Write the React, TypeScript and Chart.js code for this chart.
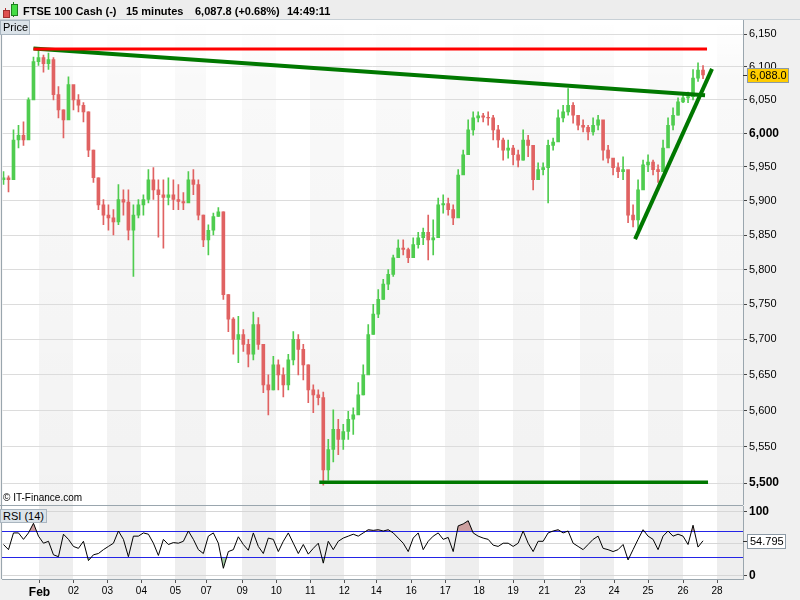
import React, { useEffect, useRef } from 'react';
import { Chart, registerables } from 'chart.js';

Chart.register(...registerables);

const FONT = '"Liberation Sans", Arial, Helvetica, sans-serif';

// ---- x axis (15-minute bar index, one bar per pixel in the original) ----
const dayLabels = ['Feb', '02', '03', '04', '05', '07', '09', '10', '11', '12', '14', '16', '17', '18', '19', '21', '23', '24', '25', '26', '28'];
const dayStartBars = [37, 71, 105, 139, 173, 204, 240, 274, 308, 342, 374, 409, 443, 477, 511, 542, 578, 612, 646, 681, 715];
const firstBar = 1;
const barsPerCandle = 5;
const lastBarRange = 741;

// ---- price axis ----
const priceTicks = [6150, 6100, 6050, 6000, 5950, 5900, 5850, 5800, 5750, 5700, 5650, 5600, 5550, 5500];
const boldPriceTicks = [6000, 5500];
const priceMin = 5470;
const priceMax = 6171.5;

// ---- candles (75-minute aggregates) ----
const firstOpen = 5931;
const highs = [
  5943, 5937, 6005, 6012, 6017, 6053, 6115, 6126, 6118, 6121,
  6114, 6070, 6035, 6085, 6068, 6058, 6046, 6032, 5975, 5934,
  5902, 5894, 5887, 5924, 5916, 5916, 5894, 5902, 5909, 5946,
  5949, 5931, 5931, 5934, 5931, 5924, 5912, 5943, 5946, 5931,
  5879, 5865, 5882, 5890, 5884, 5764, 5731, 5733, 5714, 5700,
  5739, 5731, 5693, 5650, 5676, 5671, 5660, 5679, 5711, 5707,
  5693, 5664, 5636, 5629, 5626, 5560, 5601, 5588, 5581, 5599,
  5604, 5639, 5664, 5721, 5750, 5771, 5786, 5800, 5821, 5843,
  5843, 5831, 5846, 5854, 5860, 5879, 5872, 5904, 5909, 5904,
  5894, 5946, 5975, 6020, 6032, 6032, 6030, 6032, 6027, 6012,
  5993, 5990, 5982, 5975, 6005, 5997, 5975, 5956, 5956, 5990,
  5993, 6035, 6042, 6067, 6046, 6023, 6020, 6012, 6023, 6027,
  6012, 5982, 5960, 5956, 5965, 5938, 5894, 5931, 5960, 5968,
  5960, 5953, 5990, 6023, 6038, 6053, 6061, 6062, 6096, 6106,
  6102,
];
const lows = [
  5924, 5913, 5946, 5978, 5982, 5997, 6058, 6102, 6092, 6096,
  6050, 6023, 5993, 6027, 6035, 6032, 6017, 5965, 5927, 5887,
  5865, 5857, 5850, 5865, 5879, 5843, 5790, 5875, 5879, 5897,
  5902, 5847, 5831, 5894, 5887, 5887, 5887, 5902, 5909, 5872,
  5833, 5821, 5850, 5877, 5757, 5711, 5679, 5667, 5683, 5661,
  5671, 5686, 5625, 5594, 5629, 5629, 5619, 5629, 5664, 5650,
  5643, 5611, 5597, 5608, 5497, 5504, 5529, 5539, 5546, 5560,
  5567, 5601, 5622, 5657, 5707, 5731, 5757, 5771, 5790, 5819,
  5821, 5810, 5821, 5831, 5836, 5814, 5821, 5879, 5882, 5879,
  5865, 5879, 5943, 5975, 5997, 6017, 6017, 6012, 5990, 5979,
  5960, 5963, 5953, 5950, 5960, 5965, 5916, 5934, 5938, 5897,
  5975, 6005, 6017, 6027, 6015, 6005, 6002, 5990, 5997, 6005,
  5960, 5956, 5938, 5934, 5931, 5868, 5862, 5850, 5924, 5943,
  5938, 5927, 5946, 5982, 6005, 6027, 6046, 6046, 6050, 6078,
  6082,
];
const closes = [
  5934, 5931, 5990, 5997, 5990, 6050, 6108, 6114, 6105, 6111,
  6058, 6035, 6020, 6073, 6050, 6042, 6032, 5975, 5934, 5894,
  5879, 5875, 5869, 5902, 5898, 5857, 5879, 5894, 5902, 5931,
  5916, 5909, 5905, 5909, 5902, 5899, 5897, 5931, 5924, 5879,
  5843, 5857, 5877, 5884, 5764, 5729, 5700, 5707, 5693, 5679,
  5721, 5693, 5636, 5629, 5664, 5650, 5636, 5671, 5700, 5686,
  5664, 5629, 5622, 5618, 5518, 5546, 5574, 5560, 5571, 5588,
  5594, 5622, 5650, 5707, 5736, 5757, 5779, 5793, 5817, 5831,
  5829, 5817, 5836, 5846, 5854, 5843, 5846, 5894, 5896, 5887,
  5875, 5938, 5968, 6005, 6023, 6026, 6024, 6023, 6005, 5990,
  5975, 5978, 5968, 5960, 5990, 5982, 5931, 5946, 5949, 5982,
  5987, 6023, 6032, 6042, 6027, 6012, 6009, 6002, 6012, 6020,
  5975, 5963, 5949, 5943, 5946, 5879, 5872, 5916, 5953, 5957,
  5946, 5943, 5978, 6012, 6027, 6047, 6053, 6055, 6083, 6095,
  6087.8,
];
const lastPrice = 6087.8;

// ---- RSI (14) ----
const rsiValues = [
  49, 41, 67, 67, 57, 67, 82, 62, 51, 54,
  33, 30, 65, 57, 46, 43, 54, 24, 33, 35,
  41, 46, 51, 70, 57, 30, 62, 62, 67, 65,
  51, 32, 57, 49, 52, 51, 54, 70, 57, 41,
  35, 62, 67, 51, 12, 38, 41, 61, 49, 40,
  67, 46, 35, 59, 57, 38, 54, 67, 51, 35,
  49, 34, 43, 51, 20, 54, 41, 54, 59, 62,
  65, 62, 67, 72, 71, 72, 70, 72, 67, 59,
  51, 38, 59, 67, 41, 54, 62, 67, 57, 60,
  38, 78, 81, 86, 67, 62, 59, 57, 48, 46,
  51, 51, 46, 51, 70, 51, 38, 54, 54, 67,
  70, 72, 67, 70, 51, 46, 41, 49, 57, 62,
  43, 41, 38, 41, 49, 25, 41, 57, 72, 62,
  57, 41, 62, 70, 62, 65, 62, 49, 79, 45,
  54.795,
];
const lastRsi = 54.795;
const rsiTicks = [0, 50, 100];
const rsiLabelTicks = [0, 100];
const rsiBandLevels = [30, 70];
const rsiMin = -4.67;
const rsiMax = 108.9;

// ---- drawn trend lines [bar, price] ----
const resistanceLine = [[31, 6127], [705, 6127]];
const downTrendLine = [[31, 6128], [703, 6057]];
const upTrendLine = [[633, 5844], [710, 6097]];
const supportLine = [[317, 5501], [706, 5501]];

const UP = '#4fcc4f';
const DOWN = '#e06262';
const FRAME = '#9aa6ae';
const LEVEL_BLUE = 'rgb(36, 36, 230)';
const OVERBOUGHT_FILL = 'rgb(205, 160, 160)';
const OVERSOLD_FILL = 'rgb(165, 205, 165)';

const candles = closes.map((c, i) => {
  const o = i === 0 ? firstOpen : closes[i - 1];
  return { x: firstBar + i * barsPerCandle, o, h: highs[i], l: lows[i], c };
});
const candleColors = candles.map((k) => (k.c >= k.o ? UP : DOWN));

function makeBandsPlugin(gradient: boolean, bandColor: string, topLine: boolean) {
  return {
    id: 'bands',
    beforeDraw(chart: any) {
      const { ctx, chartArea: a, scales } = chart;
      const x = scales.x;
      ctx.save();
      ctx.fillStyle = '#f0f0f0';
      ctx.fillRect(0, 0, chart.width, chart.height);
      ctx.fillStyle = '#ffffff';
      ctx.fillRect(a.left, a.top, a.right - a.left, a.bottom - a.top);
      let fill: any = bandColor;
      if (gradient) {
        const g = ctx.createLinearGradient(0, a.top, 0, a.bottom);
        g.addColorStop(0, 'rgba(0,0,0,0.0)');
        g.addColorStop(0.12, 'rgba(0,0,0,0.025)');
        g.addColorStop(1, 'rgba(0,0,0,0.05)');
        fill = g;
      }
      ctx.fillStyle = fill;
      for (let k = 0; k < dayStartBars.length; k += 2) {
        const x0 = Math.round(x.getPixelForValue(dayStartBars[k]));
        const x1 = k + 1 < dayStartBars.length ? Math.round(x.getPixelForValue(dayStartBars[k + 1])) : Math.round(a.right);
        const r = Math.min(x1, Math.round(a.right));
        if (r > x0) ctx.fillRect(x0, a.top, r - x0, a.bottom - a.top);
      }
      ctx.fillStyle = FRAME;
      ctx.fillRect(1, a.top, 1, a.bottom - a.top);
      if (topLine) ctx.fillRect(0, 0, Math.round(a.right), 1);
      ctx.restore();
    },
  };
}

// RSI: shaded excursions beyond 70 / 30, then the blue 30 / 70 lines
const rsiLevelsPlugin = {
  id: 'rsiLevels',
  beforeDatasetsDraw(chart: any) {
    const { ctx, chartArea: a, scales } = chart;
    const xs = scales.x;
    const ys = scales.y;
    const px = rsiValues.map((_v, i) => xs.getPixelForValue(firstBar + i * barsPerCandle));
    const py = rsiValues.map((v) => ys.getPixelForValue(v));
    const yHi = Math.round(ys.getPixelForValue(rsiBandLevels[1]));
    const yLo = Math.round(ys.getPixelForValue(rsiBandLevels[0]));
    const left = Math.floor(a.left);
    const width = Math.ceil(a.right) - left;

    const shade = (clipTop: number, clipH: number, base: number, color: string) => {
      ctx.save();
      ctx.beginPath();
      ctx.rect(left, clipTop, width, clipH);
      ctx.clip();
      ctx.beginPath();
      ctx.moveTo(px[0], base);
      for (let i = 0; i < px.length; i++) ctx.lineTo(px[i], py[i]);
      ctx.lineTo(px[px.length - 1], base);
      ctx.closePath();
      ctx.fillStyle = color;
      ctx.fill();
      ctx.restore();
    };
    shade(Math.floor(a.top), yHi - Math.floor(a.top), yHi, OVERBOUGHT_FILL);
    shade(yLo + 1, Math.ceil(a.bottom) - yLo - 1, yLo, OVERSOLD_FILL);

    ctx.save();
    ctx.fillStyle = LEVEL_BLUE;
    ctx.fillRect(left, yHi, width, 1);
    ctx.fillRect(left, yLo, width, 1);
    ctx.restore();
  },
};

function makeValueBoxPlugin(value: number, text: string, fillColor: string) {
  return {
    id: 'valueBox',
    afterDraw(chart: any) {
      const { ctx, chartArea: a, scales } = chart;
      const py = Math.round(scales.y.getPixelForValue(value));
      const right = Math.round(a.right);
      ctx.save();
      ctx.fillStyle = '#333333';
      ctx.fillRect(right, py, 4, 1);
      ctx.font = `11px ${FONT}`;
      const w = Math.ceil(ctx.measureText(text).width) + 5;
      const h = 15;
      const bx = right + 4;
      const by = py - 7;
      ctx.fillStyle = fillColor;
      ctx.fillRect(bx, by, w, h);
      ctx.strokeStyle = '#8c9aa6';
      ctx.lineWidth = 1;
      ctx.strokeRect(bx + 0.5, by + 0.5, w - 1, h - 1);
      ctx.fillStyle = '#000000';
      ctx.textBaseline = 'middle';
      ctx.textAlign = 'left';
      ctx.fillText(text, bx + 3, py + 1);
      ctx.restore();
    },
  };
}

function noPad(s: any) {
  s.paddingTop = 0;
  s.paddingBottom = 0;
  s.paddingLeft = 0;
  s.paddingRight = 0;
}

function lineDs(points: number[][], color: string, width: number) {
  return {
    type: 'line',
    data: points.map((p) => ({ x: p[0], y: p[1] })),
    borderColor: color,
    borderWidth: width,
    pointRadius: 0,
    fill: false,
    tension: 0,
    order: 0,
  };
}

function priceConfig(): any {
  return {
    type: 'bar',
    data: {
      datasets: [
        {
          type: 'bar',
          data: candles.map((k) => ({ x: k.x, y: [k.l, k.h] })),
          backgroundColor: candleColors,
          barThickness: 1,
          grouped: false,
          order: 3,
        },
        {
          type: 'bar',
          data: candles.map((k) => ({ x: k.x, y: [k.o, k.c] })),
          backgroundColor: candleColors,
          barThickness: 3,
          grouped: false,
          order: 2,
        },
        lineDs(resistanceLine, '#ff0000', 3),
        lineDs(downTrendLine, '#007800', 4),
        lineDs(upTrendLine, '#007800', 4),
        lineDs(supportLine, '#007800', 3.5),
      ],
    },
    options: {
      responsive: false,
      animation: false,
      devicePixelRatio: 1,
      events: [],
      layout: { padding: { left: 2.5, top: 0, right: 0, bottom: 0 } },
      plugins: {
        legend: { display: false },
        tooltip: { enabled: false },
      },
      scales: {
        x: {
          type: 'linear',
          display: false,
          offset: false,
          min: 0,
          max: lastBarRange,
          grid: { display: false },
        },
        y: {
          type: 'logarithmic',
          position: 'right',
          min: priceMin,
          max: priceMax,
          afterBuildTicks: (s: any) => {
            s.ticks = priceTicks.map((v) => ({ value: v }));
          },
          afterFit: (s: any) => {
            s.width = 57;
            noPad(s);
          },
          grid: { color: '#dcdcdc', tickLength: 4, tickColor: '#444', lineWidth: 1 },
          border: { display: true, color: FRAME },
          ticks: {
            padding: 2,
            color: '#000',
            autoSkip: false,
            callback: (v: any) => Number(v).toLocaleString('en-US'),
            font: (c: any) => {
              const b = c.tick && boldPriceTicks.includes(c.tick.value);
              return { family: FONT, size: b ? 12 : 11, weight: b ? 'bold' : 'normal' };
            },
          },
        },
      },
    },
    plugins: [makeBandsPlugin(true, '', false), makeValueBoxPlugin(lastPrice, '6,088.0', '#ffcc00')],
  };
}

function rsiConfig(): any {
  const pts = rsiValues.map((v, i) => ({ x: firstBar + i * barsPerCandle, y: v }));
  return {
    type: 'line',
    data: {
      datasets: [
        {
          data: pts,
          borderColor: '#000',
          borderWidth: 1,
          pointRadius: 0,
          fill: false,
          tension: 0,
        },
      ],
    },
    options: {
      responsive: false,
      animation: false,
      devicePixelRatio: 1,
      events: [],
      layout: { padding: { left: 2.5, top: 1, right: 0, bottom: 0 } },
      plugins: {
        legend: { display: false },
        tooltip: { enabled: false },
      },
      scales: {
        x: {
          type: 'linear',
          min: 0,
          max: lastBarRange,
          offset: false,
          afterBuildTicks: (s: any) => {
            s.ticks = dayStartBars.map((v) => ({ value: v }));
          },
          afterFit: (s: any) => {
            s.height = 21;
            noPad(s);
          },
          grid: { drawOnChartArea: false, tickLength: 4, tickColor: '#555' },
          border: { display: true, color: FRAME },
          ticks: {
            autoSkip: false,
            maxRotation: 0,
            minRotation: 0,
            padding: 2,
            color: '#000',
            callback: (_v: any, i: number) => dayLabels[i],
            font: (c: any) =>
              c.index === 0
                ? { family: FONT, size: 12, weight: 'bold' }
                : { family: FONT, size: 10, weight: 'normal' },
          },
        },
        y: {
          type: 'linear',
          position: 'right',
          min: rsiMin,
          max: rsiMax,
          afterBuildTicks: (s: any) => {
            s.ticks = rsiTicks.map((v) => ({ value: v }));
          },
          afterFit: (s: any) => {
            s.width = 57;
            noPad(s);
          },
          grid: {
            tickLength: 4,
            color: '#d6d6d6',
            tickColor: (c: any) => (c.tick && rsiLabelTicks.includes(c.tick.value) ? '#444' : 'rgba(0,0,0,0)'),
          },
          border: { display: true, color: FRAME },
          ticks: {
            padding: 2,
            color: '#000',
            autoSkip: false,
            callback: (v: any) => (rsiLabelTicks.includes(Number(v)) ? String(v) : ''),
            font: { family: FONT, size: 12, weight: 'bold' },
          },
        },
      },
    },
    plugins: [makeBandsPlugin(false, 'rgba(0,0,0,0.065)', true), rsiLevelsPlugin, makeValueBoxPlugin(lastRsi, '54.795', '#ffffff')],
  };
}

const labelBox: React.CSSProperties = {
  position: 'absolute',
  background: '#dbe3e9',
  border: '1px solid #aab6c0',
  font: `11px ${FONT}`,
  color: '#000',
  lineHeight: '13px',
  padding: '0 2px',
  boxSizing: 'border-box',
  whiteSpace: 'nowrap',
};

const headText: React.CSSProperties = {
  position: 'absolute',
  top: 3,
  font: `bold 11px ${FONT}`,
  lineHeight: '16px',
  color: '#000',
  whiteSpace: 'nowrap',
};

export default function App() {
  const priceRef = useRef<HTMLCanvasElement>(null);
  const rsiRef = useRef<HTMLCanvasElement>(null);

  useEffect(() => {
    const p = new Chart(priceRef.current as HTMLCanvasElement, priceConfig());
    const r = new Chart(rsiRef.current as HTMLCanvasElement, rsiConfig());
    return () => {
      p.destroy();
      r.destroy();
    };
  }, []);

  return (
    <div
      style={{
        position: 'fixed',
        left: 0,
        top: 0,
        width: 800,
        height: 600,
        background: '#f0f0f0',
        overflow: 'hidden',
        fontFamily: FONT,
      }}
    >
      <canvas
        ref={priceRef}
        width={800}
        height={485}
        style={{ position: 'absolute', left: 0, top: 20, width: 800, height: 485 }}
      />
      <canvas
        ref={rsiRef}
        width={800}
        height={95}
        style={{ position: 'absolute', left: 0, top: 505, width: 800, height: 95 }}
      />
      {/* header */}
      <div
        style={{
          position: 'absolute',
          left: 0,
          top: 0,
          width: 800,
          height: 20,
          background: '#ededed',
          borderBottom: '1px solid #c8d0d6',
          boxSizing: 'border-box',
        }}
      >
        <div style={{ position: 'absolute', left: 5, top: 8, width: 1, height: 10, background: '#b03030' }} />
        <div style={{ position: 'absolute', left: 3, top: 10, width: 5, height: 6, background: '#e05050', border: '1px solid #a03030' }} />
        <div style={{ position: 'absolute', left: 13, top: 2, width: 1, height: 15, background: '#208020' }} />
        <div style={{ position: 'absolute', left: 11, top: 4, width: 5, height: 10, background: '#44dd44', border: '1px solid #208020' }} />
        <span style={{ ...headText, left: 23 }}>FTSE 100 Cash (-)</span>
        <span style={{ ...headText, left: 126 }}>15 minutes</span>
        <span style={{ ...headText, left: 195 }}>6,087.8 (+0.68%)</span>
        <span style={{ ...headText, left: 287 }}>14:49:11</span>
      </div>
      <div style={{ ...labelBox, left: 0, top: 20, width: 30, height: 15 }}>Price</div>
      <div style={{ ...labelBox, left: 0, top: 509, height: 14 }}>RSI (14)</div>
      <div
        style={{
          position: 'absolute',
          left: 3,
          top: 491,
          font: `10px ${FONT}`,
          lineHeight: '13px',
          color: '#000',
          whiteSpace: 'nowrap',
        }}
      >
        © IT-Finance.com
      </div>
    </div>
  );
}
